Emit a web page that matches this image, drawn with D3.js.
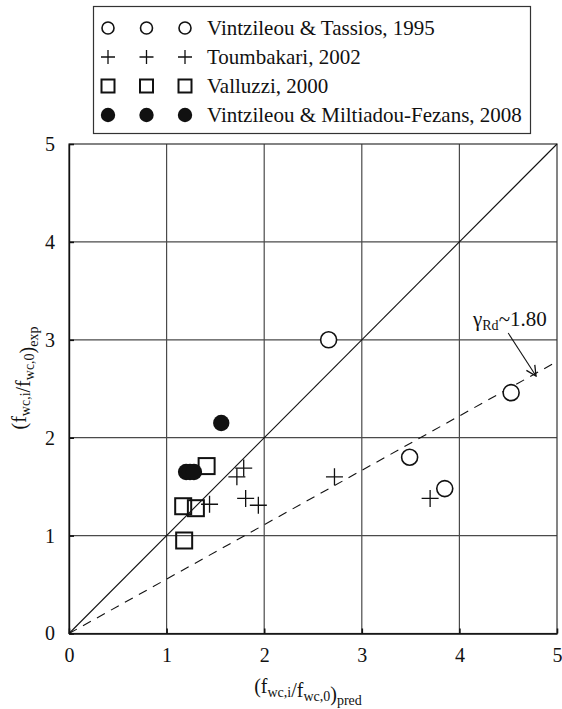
<!DOCTYPE html>
<html>
<head>
<meta charset="utf-8">
<script src="https://cdn.jsdelivr.net/npm/d3@7"></script>
<style>
  html, body { margin: 0; padding: 0; background: #fff; }
  svg { display: block; font-family: "Liberation Serif", "Times New Roman", serif; }
</style>
</head>
<body>
<svg id="chart" width="562" height="709"></svg>
<script>
// Normalised wall compressive strength: predicted vs experimental
const seriesNames = [
  "Vintzileou & Tassios, 1995",
  "Toumbakari, 2002",
  "Valluzzi, 2000",
  "Vintzileou & Miltiadou-Fezans, 2008"
];
const seriesSymbols = ["circle", "plus", "square", "dot"];

// [predicted, experimental]
const tassios1995 = [[2.66, 3.00], [4.53, 2.46], [3.49, 1.80], [3.85, 1.48]];
const toumbakari2002 = [[1.44, 1.32], [1.79, 1.69], [1.72, 1.60], [1.81, 1.38],
                        [1.94, 1.31], [2.72, 1.60], [3.70, 1.38]];
const valluzzi2000 = [[1.41, 1.71], [1.17, 1.30], [1.30, 1.28], [1.18, 0.95]];
const miltiadou2008 = [[1.56, 2.15], [1.20, 1.65], [1.24, 1.65], [1.28, 1.65]];
const seriesData = [tassios1995, toumbakari2002, valluzzi2000, miltiadou2008];

const xTicks = [0, 1, 2, 3, 4, 5];
const yTicks = [0, 1, 2, 3, 4, 5];
const gammaRd = 1.80;
const gammaLabelValue = "1.80";
const arrowFrom = [4.50, 3.07];
const arrowTo = [4.785, 2.63];

const svg = d3.select("#chart");
const x = d3.scaleLinear().domain([0, 5]).range([69, 557]);
const y = d3.scaleLinear().domain([0, 5]).range([633.5, 144]);

// grid
const grid = svg.append("g");
grid.selectAll("line.gx").data(xTicks.slice(1, -1)).join("line")
  .attr("x1", d => x(d)).attr("x2", d => x(d))
  .attr("y1", y(0)).attr("y2", y(5))
  .attr("stroke", "#4a4a4a").attr("stroke-width", 1.2);
grid.selectAll("line.gy").data(yTicks.slice(1, -1)).join("line")
  .attr("y1", d => y(d)).attr("y2", d => y(d))
  .attr("x1", x(0)).attr("x2", x(5))
  .attr("stroke", "#4a4a4a").attr("stroke-width", 1.2);

// frame
svg.append("rect")
  .attr("x", x(0)).attr("y", y(5))
  .attr("width", x(5) - x(0)).attr("height", y(0) - y(5))
  .attr("fill", "none").attr("stroke", "#333").attr("stroke-width", 1.2);

// axes with inward ticks
const xAxis = d3.axisBottom(x).tickValues(xTicks).tickFormat(d3.format("d"))
  .tickSizeInner(-5).tickSizeOuter(0).tickPadding(14);
const yAxis = d3.axisLeft(y).tickValues(yTicks).tickFormat(d3.format("d"))
  .tickSizeInner(-5).tickSizeOuter(0).tickPadding(14);

const gx = svg.append("g").attr("transform", `translate(0,${y(0)})`).call(xAxis);
const gy = svg.append("g").attr("transform", `translate(${x(0)},0)`).call(yAxis);
[gx, gy].forEach(g => {
  g.attr("font-family", null);
  g.select(".domain").attr("stroke", "#111").attr("stroke-width", 1.4);
  g.selectAll(".tick line").attr("stroke", "#111").attr("stroke-width", 1.6);
  g.selectAll(".tick text").attr("fill", "#111")
    .style("font-family", "Liberation Serif").style("font-size", "20px");
});
gx.selectAll(".tick text").attr("dy", "0.71em");

// 1:1 line and design line
svg.append("line")
  .attr("x1", x(0)).attr("y1", y(0)).attr("x2", x(5)).attr("y2", y(5))
  .attr("stroke", "#111").attr("stroke-width", 1.1);
svg.append("line")
  .attr("x1", x(0)).attr("y1", y(0)).attr("x2", x(5)).attr("y2", y(5 / gammaRd))
  .attr("stroke", "#111").attr("stroke-width", 1.1)
  .attr("stroke-dasharray", "9,7");

// markers
function drawMarker(g, type, cx, cy, s) {
  if (type === "circle") {
    g.append("circle").attr("cx", cx).attr("cy", cy).attr("r", s)
      .attr("fill", "#fff").attr("stroke", "#111").attr("stroke-width", 1.6);
  } else if (type === "dot") {
    g.append("circle").attr("cx", cx).attr("cy", cy).attr("r", s)
      .attr("fill", "#111").attr("stroke", "none");
  } else if (type === "square") {
    g.append("rect").attr("x", cx - s).attr("y", cy - s)
      .attr("width", 2 * s).attr("height", 2 * s)
      .attr("fill", "none").attr("stroke", "#111").attr("stroke-width", 2);
  } else if (type === "plus") {
    g.append("path")
      .attr("d", `M${cx - s},${cy}H${cx + s}M${cx},${cy - s}V${cy + s}`)
      .attr("stroke", "#111").attr("stroke-width", 1.3).attr("fill", "none");
  }
}
const plotSizes = { circle: 8, dot: 8.2, square: 8, plus: 8.5 };
const marks = svg.append("g");
seriesData.forEach((pts, i) => {
  const t = seriesSymbols[i];
  pts.forEach(p => drawMarker(marks, t, x(p[0]), y(p[1]), plotSizes[t]));
});

// annotation
const ann = svg.append("text")
  .attr("x", 473).attr("y", 326)
  .style("font-size", "21px").attr("fill", "#111");
ann.append("tspan").text("γ");
ann.append("tspan").attr("dy", 4).style("font-size", "14px").text("Rd");
ann.append("tspan").attr("dy", -4).text("~" + gammaLabelValue);

svg.append("defs").append("marker")
  .attr("id", "arrow").attr("viewBox", "0 0 12 12")
  .attr("refX", 11).attr("refY", 6)
  .attr("markerWidth", 12).attr("markerHeight", 12)
  .attr("markerUnits", "userSpaceOnUse")
  .attr("orient", "auto")
  .append("path").attr("d", "M1,1L11,6L1,11")
  .attr("fill", "none").attr("stroke", "#111").attr("stroke-width", 1.3);
svg.append("line")
  .attr("x1", x(arrowFrom[0])).attr("y1", y(arrowFrom[1]))
  .attr("x2", x(arrowTo[0])).attr("y2", y(arrowTo[1]))
  .attr("stroke", "#111").attr("stroke-width", 1.1)
  .attr("marker-end", "url(#arrow)");

// axis titles with subscripts
function subTitle(sel, parts) {
  parts.forEach(([txt, sub]) => {
    sel.append("tspan")
      .attr("dy", sub ? 4 : 0)
      .style("font-size", sub ? "14px" : "20px")
      .text(txt);
    if (sub) sel.append("tspan").attr("dy", -4).text("");
  });
}
const xTitle = svg.append("text")
  .attr("x", 308).attr("y", 693).attr("text-anchor", "middle")
  .style("font-size", "20px").attr("fill", "#111");
subTitle(xTitle, [["(f", false], ["wc,i", true], ["/f", false], ["wc,0", true], [")", false], ["pred", true]]);

const yTitle = svg.append("text")
  .attr("transform", "translate(26,378) rotate(-90)")
  .attr("text-anchor", "middle")
  .style("font-size", "20px").attr("fill", "#111");
subTitle(yTitle, [["(f", false], ["wc,i", true], ["/f", false], ["wc,0", true], [")", false], ["exp", true]]);

// legend
const legend = svg.append("g");
legend.append("rect")
  .attr("x", 93.5).attr("y", 6.5).attr("width", 437).attr("height", 127)
  .attr("fill", "#fff").attr("stroke", "#333").attr("stroke-width", 1.2);
const legendSizes = { circle: 6, dot: 7.2, square: 6.5, plus: 7 };
const legendSymX = [108, 146.5, 185];
seriesNames.forEach((name, i) => {
  const cy = 28 + i * 29;
  legendSymX.forEach(cx => drawMarker(legend, seriesSymbols[i], cx, cy, legendSizes[seriesSymbols[i]]));
  legend.append("text")
    .attr("x", 207).attr("y", cy).attr("dy", "0.35em")
    .style("font-size", "21px").attr("fill", "#111")
    .text(name);
});
</script>
</body>
</html>
